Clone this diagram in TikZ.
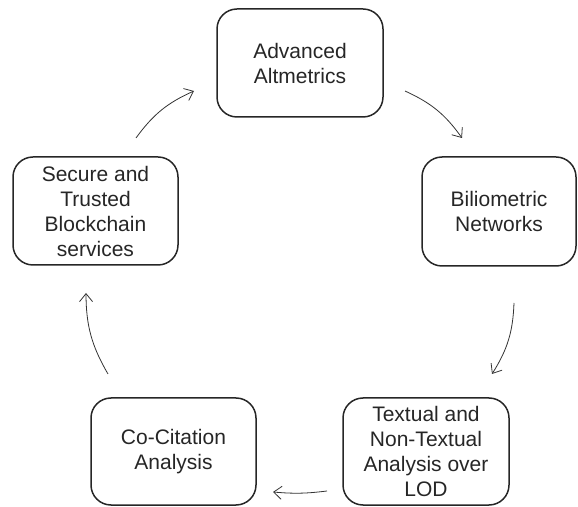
\documentclass[tikz,border=0pt]{standalone}
\usepackage{fontspec}
\setmainfont{Liberation Sans}
\usetikzlibrary{arrows.meta}
\begin{document}
\begin{tikzpicture}[x=1pt,y=1pt,
  box/.style={draw=black!85, line width=1.5pt, rounded corners=20pt, align=center, inner sep=0pt,
    font=\fontsize{21}{25}\selectfont, text=black!85},
  conn/.style={draw=black!80, line width=0.8pt, -{Straight Barb[length=8pt,width=13pt]}}]
\useasboundingbox (0,0) rectangle (578,506);
\node[box, minimum width=166pt, minimum height=108pt] (A) at (300,443) {Advanced\\Altmetrics};
\node[box, minimum width=154pt, minimum height=109pt] (B) at (499,294.5) {Biliometric\\Networks};
\node[box, minimum width=166pt, minimum height=107pt] (C) at (426,54.5) {Textual and\\Non-Textual\\Analysis over\\LOD};
\node[box, minimum width=165pt, minimum height=107pt] (D) at (173.5,54.5) {Co-Citation\\Analysis};
\node[box, minimum width=165pt, minimum height=108pt] (E) at (95.5,295) {Secure and\\Trusted\\Blockchain\\services};
\coordinate (e1) at (136,368);
\coordinate (a1) at (194,415);
\coordinate (a2) at (405,415);
\coordinate (b1) at (462,368);
\coordinate (b2) at (514,203);
\coordinate (c1) at (492,132);
\coordinate (c2) at (327,15);
\coordinate (d1) at (273,14);
\coordinate (d2) at (108,132);
\coordinate (e2) at (86,213);
\draw[conn] (e1) to[bend left=15] (a1);
\draw[conn] (a2) to[bend left=15] (b1);
\draw[conn] (b2) to[bend left=15] (c1);
\draw[conn] (c2) to[bend left=6] (d1);
\draw[conn] (d2) to[bend left=15] (e2);
\end{tikzpicture}
\end{document}
